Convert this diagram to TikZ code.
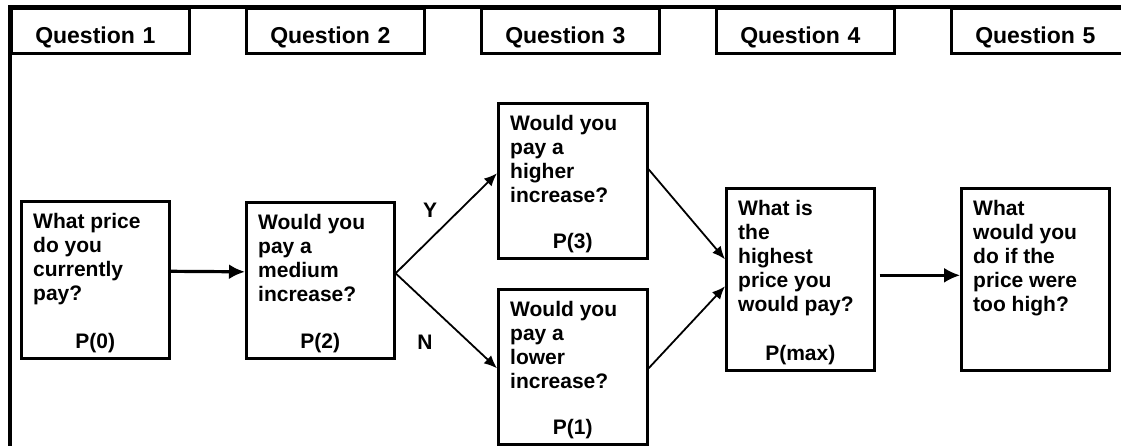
\documentclass[tikz,border=0pt]{standalone}
\usepackage{fontspec}
\setmainfont{Liberation Sans}
\usetikzlibrary{arrows.meta}

\begin{document}
\begin{tikzpicture}[x=1pt, y=-1pt,
  every node/.style = {font=\bfseries\fontsize{21pt}{24pt}\selectfont},
  head/.style = {draw, line width=2.5pt, anchor=north west,
    minimum width=178pt, minimum height=45pt,
    text width=130pt, inner xsep=24pt, align=left,
    text height=25pt, text depth=0pt,
    font=\bfseries\fontsize{23pt}{27pt}\selectfont},
  qbox/.style = {draw, line width=2.6pt, anchor=north west,
    minimum width=148pt},
  qtext/.style = {anchor=north west, align=left, inner sep=13pt},
  plabel/.style = {anchor=base, yshift=11.5pt},
  flow/.style = {line width=1.8pt, -{Latex[length=13pt,width=11pt]}},
  bigflow/.style = {-{Latex[length=16pt,width=15pt]}}]
  \useasboundingbox (0,0) rectangle (1121,445);

  % frame and column heads
  \draw[line width=3.5pt] (10,450) -- (10,7) -- (1130,7);
  \node[head] (q1) at (10,7) {Question 1};
  \node[head] (q2) at (245,7) {Question 2};
  \node[head] (q3) at (480,7) {Question 3};
  \node[head] (q4) at (715,7) {Question 4};
  \node[head] (q5) at (950,7) {Question 5};

  % question boxes
  \node[qbox, minimum height=157pt] (cur) at (20,200) {};
  \node[qtext] (curtxt) at (cur.north west) {What price\\do you\\currently\\pay?};
  \node[plabel] (curp) at (cur.south) {P(0)};

  \node[qbox, minimum height=156pt] (med) at (245,201) {};
  \node[qtext] (medtxt) at (med.north west) {Would you\\pay a\\medium\\increase?};
  \node[plabel] (medp) at (med.south) {P(2)};

  \node[qbox, minimum width=149pt, minimum height=155pt] (high) at (497,102) {};
  \node[qtext] (hightxt) at (high.north west) {Would you\\pay a\\higher\\increase?};
  \node[plabel] (highp) at (high.south) {P(3)};

  \node[qbox, minimum width=149pt, minimum height=155pt] (low) at (497,288) {};
  \node[qtext] (lowtxt) at (low.north west) {Would you\\pay a\\lower\\increase?};
  \node[plabel] (lowp) at (low.south) {P(1)};

  \node[qbox, minimum height=182pt] (max) at (725,187) {};
  \node[qtext] (maxtxt) at (max.north west) {What is\\the\\highest\\price you\\would pay?};
  \node[plabel] (maxp) at (max.south) {P(max)};

  \node[qbox, minimum height=182pt] (toohigh) at (960,187) {};
  \node[qtext] (toohightxt) at (toohigh.north west) {What\\would you\\do if the\\price were\\too high?};

  % answers
  \node (yes) at (430,210) {Y};
  \node (no) at (425,342) {N};

  % connectors
  \draw[bigflow, line width=3.2pt] ([yshift=8.5pt]cur.east) -- ([yshift=8.5pt]med.west);
  \coordinate (fork) at ([yshift=7pt]med.east);
  \draw[flow] (fork) -- ([yshift=7.5pt]high.west);
  \draw[flow] (fork) -- ([yshift=-1.5pt]low.west);
  \draw[flow] ([yshift=11.5pt]high.east) -- ([yshift=20pt]max.west);
  \draw[flow] ([yshift=-1.5pt]low.east) -- ([yshift=-7pt]max.west);
  \draw[bigflow, line width=2.4pt] ([xshift=4pt,yshift=4pt]max.east) -- ([yshift=4pt]toohigh.west);
\end{tikzpicture}
\end{document}
